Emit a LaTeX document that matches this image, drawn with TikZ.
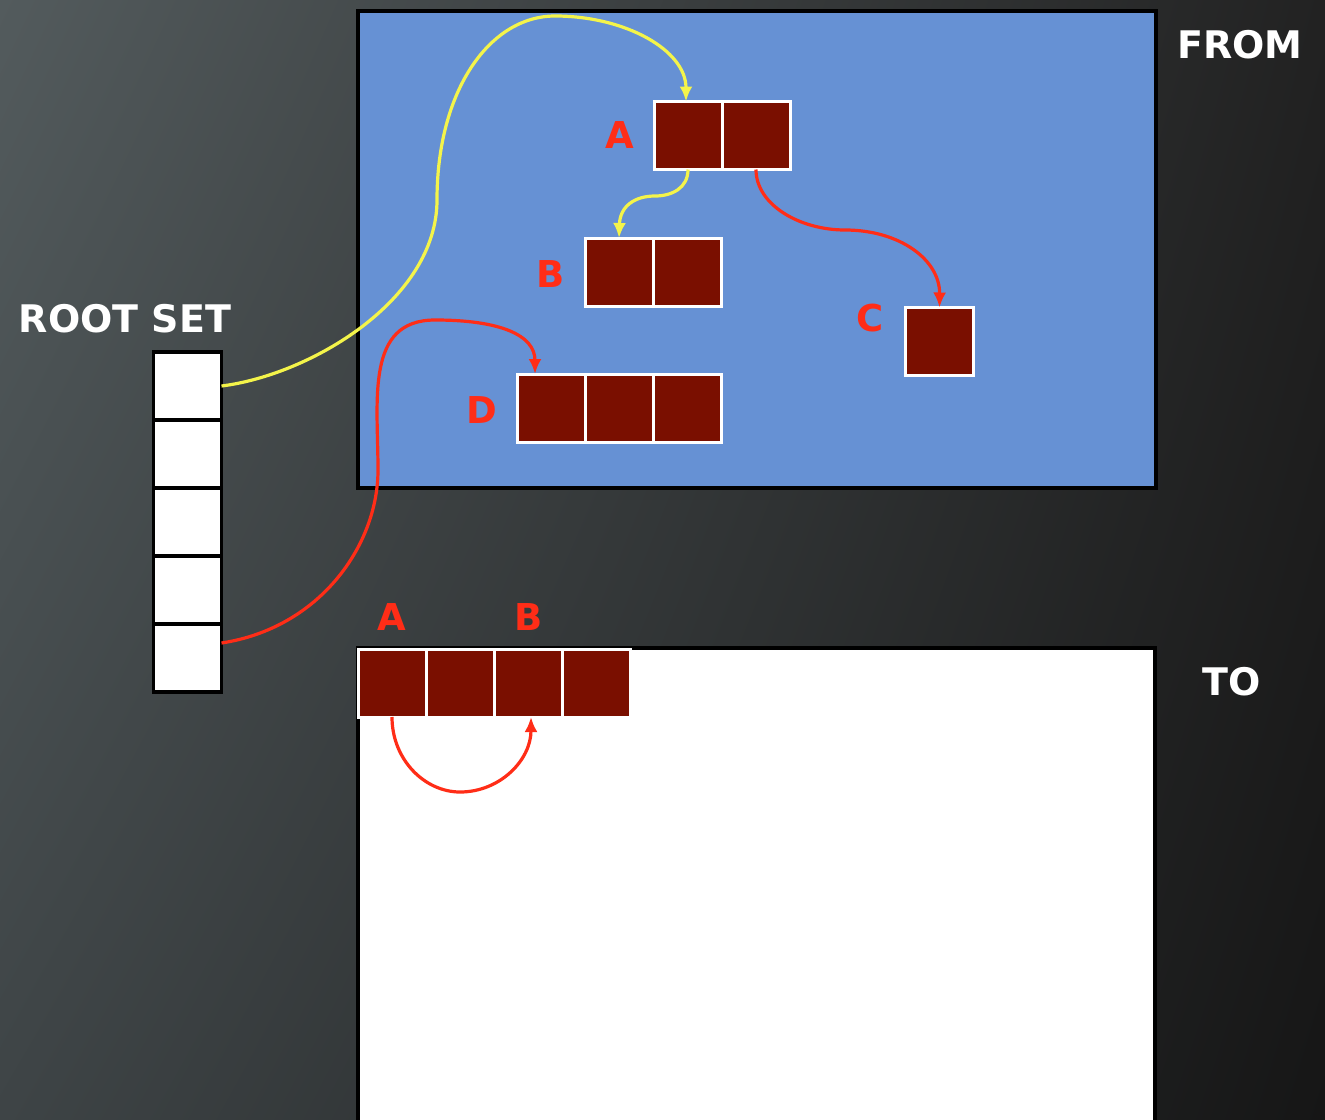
\documentclass[tikz,border=0pt]{standalone}
\usepackage{fontspec}
\setmainfont{DejaVu Sans}
\usetikzlibrary{arrows.meta,shadings}

\definecolor{bgUL}{HTML}{535B5D}
\definecolor{bgUR}{HTML}{222222}
\definecolor{bgLL}{HTML}{3E4446}
\definecolor{bgLR}{HTML}{161616}
\definecolor{fromblue}{HTML}{6691D4}
\definecolor{cellred}{HTML}{7A0F00}
\definecolor{labelred}{HTML}{FF2D17}
\definecolor{ptryellow}{HTML}{F4F44A}

\begin{document}
\begin{tikzpicture}[x=1pt,y=-1pt,
  cell/.style={draw=white, line width=3pt, fill=cellred,
    minimum width=68pt, minimum height=68pt, inner sep=0pt, outer sep=0pt},
  rootcell/.style={draw=black, fill=white, line width=3.5pt,
    minimum width=68pt, minimum height=68pt, inner sep=0pt, outer sep=0pt},
  lbl/.style={text=labelred, inner sep=0pt, font=\bfseries\fontsize{37}{37}\selectfont},
  heading/.style={text=white, inner sep=0pt, font=\bfseries\fontsize{38}{38}\selectfont},
  space/.style={draw=black, line width=3.5pt, inner sep=0pt, outer sep=0pt, anchor=north west},
  yptr/.style={draw=ptryellow, line width=3.2pt},
  rptr/.style={draw=labelred, line width=3.2pt},
  tip/.style={-{Latex[length=15pt,width=13pt]}}]

% background
\useasboundingbox (0,0) rectangle (1325,1119);
\shade[upper left=bgUL, upper right=bgUR, lower left=bgLL, lower right=bgLR]
  (0,0) rectangle (1325,1119);

% semispaces
\node[space, fill=fromblue, minimum width=798pt, minimum height=477pt] (from) at (358,11) {};
\node[space, fill=white, minimum width=797pt, minimum height=490pt] (to) at (358,648) {};

% headings
\node[heading] (hroot) at (125,319) {ROOT SET};
\node[heading] (hfrom) at (1240,45) {FROM};
\node[heading] (hto) at (1232,682) {TO};

% root set
\node[rootcell] (r1) at (187.5,386) {};
\node[rootcell] (r2) at (187.5,454) {};
\node[rootcell] (r3) at (187.5,522) {};
\node[rootcell] (r4) at (187.5,590) {};
\node[rootcell] (r5) at (187.5,658) {};

% objects in from-space
\node[cell] (a1) at (688,135.5) {};
\node[cell] (a2) at (756,135.5) {};
\node[lbl] (la) at (620,135) {A};

\node[cell] (b1) at (619,272) {};
\node[cell] (b2) at (687.5,272) {};
\node[lbl] (lb) at (551,274) {B};

\node[cell] (c1) at (939.5,341.5) {};
\node[lbl] (lc) at (870,318) {C};

\node[cell] (d1) at (551,408) {};
\node[cell] (d2) at (619,408) {};
\node[cell] (d3) at (687.5,408) {};
\node[lbl] (ld) at (482,410) {D};

% copies in to-space
\node[cell] (t1) at (392,683) {};
\node[cell] (t2) at (460,683) {};
\node[cell] (t3) at (528,683) {};
\node[cell] (t4) at (596,683) {};
\node[lbl] (lta) at (392,617) {A};
\node[lbl] (ltb) at (529,617) {B};

% pointers
\draw[yptr, tip] (r1.east) .. controls (310,375) and (437,300) .. (437,200)
  .. controls (437,90) and (490,16) .. (555,16)
  .. controls (625,16) and (686,50) .. ([xshift=-2pt]a1.north);
\draw[yptr, tip] (a1.south) .. controls (688,188) and (672,196) .. (655,196)
  .. controls (635,196) and (620,206) .. (b1.north);
\draw[rptr, tip] (a2.south) .. controls (756,205) and (800,230) .. (845,230)
  .. controls (900,230) and (940,260) .. (c1.north);
\draw[rptr, tip] ([yshift=15pt]r5.east) .. controls (320,628) and (378,545) .. (378,470)
  .. controls (378,400) and (365,320) .. (435,320)
  .. controls (500,320) and (535,335) .. ([xshift=-16pt]d1.north);
\draw[rptr, tip] (t1.south) .. controls (392,760) and (425,792) .. (460,792)
  .. controls (500,792) and (531,760) .. ([xshift=3pt]t3.south);
\end{tikzpicture}
\end{document}
